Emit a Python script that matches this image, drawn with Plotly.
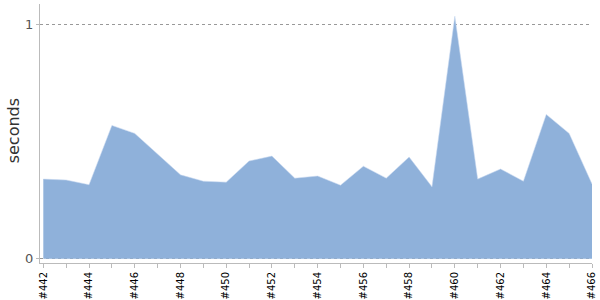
import plotly.graph_objects as go

builds = ["#442", "#443", "#444", "#445", "#446", "#447", "#448", "#449", "#450",
          "#451", "#452", "#453", "#454", "#455", "#456", "#457", "#458", "#459",
          "#460", "#461", "#462", "#463", "#464", "#465", "#466"]
seconds = [0.340, 0.336, 0.316, 0.569, 0.535, 0.447, 0.358, 0.331, 0.327,
           0.417, 0.438, 0.344, 0.353, 0.314, 0.395, 0.344, 0.434, 0.307,
           1.035, 0.340, 0.383, 0.331, 0.616, 0.535, 0.319]
tick_labels = [b if i % 2 == 0 else "" for i, b in enumerate(builds)]
y_ticks = [0, 1]

font = "DejaVu Sans"
fig = go.Figure()
fig.add_trace(go.Scatter(
    x=list(range(len(builds))), y=seconds, mode="lines", fill="tozeroy",
    line=dict(width=0.6, color="rgba(200,215,240,0.9)"),
    fillcolor="rgb(143,177,218)", hoverinfo="skip", showlegend=False,
))
fig.update_layout(
    width=600, height=300, margin=dict(l=40, r=8, t=4, b=37),
    paper_bgcolor="white", plot_bgcolor="white",
    xaxis=dict(
        range=[-0.145, 24.0], tickmode="array",
        tickvals=list(range(len(builds))), ticktext=tick_labels,
        tickangle=-90, tickfont=dict(family=font, size=10, color="#000"),
        ticks="outside", ticklen=4, tickcolor="#bbb", tickwidth=1,
        showline=True, linecolor="#bbb", linewidth=1,
        showgrid=False, zeroline=False, fixedrange=True, automargin=False,
    ),
    yaxis=dict(
        range=[-0.018, 1.087], tickmode="array", tickvals=y_ticks,
        ticktext=[str(v) for v in y_ticks],
        tickfont=dict(family=font, size=13, color="#555"),
        ticks="outside", ticklen=3, tickcolor="#bbb",
        showline=True, linecolor="#bbb", linewidth=1,
        showgrid=True, gridcolor="#999", griddash="dot", gridwidth=1,
        zeroline=False, automargin=False,
    ),
    annotations=[dict(
        text="seconds", textangle=-90, xref="paper", yref="paper",
        x=-0.049, y=0.512, xanchor="center", yanchor="middle", showarrow=False,
        font=dict(family=font, size=16, color="#333"),
    )],
)
fig.write_html("out.html")
